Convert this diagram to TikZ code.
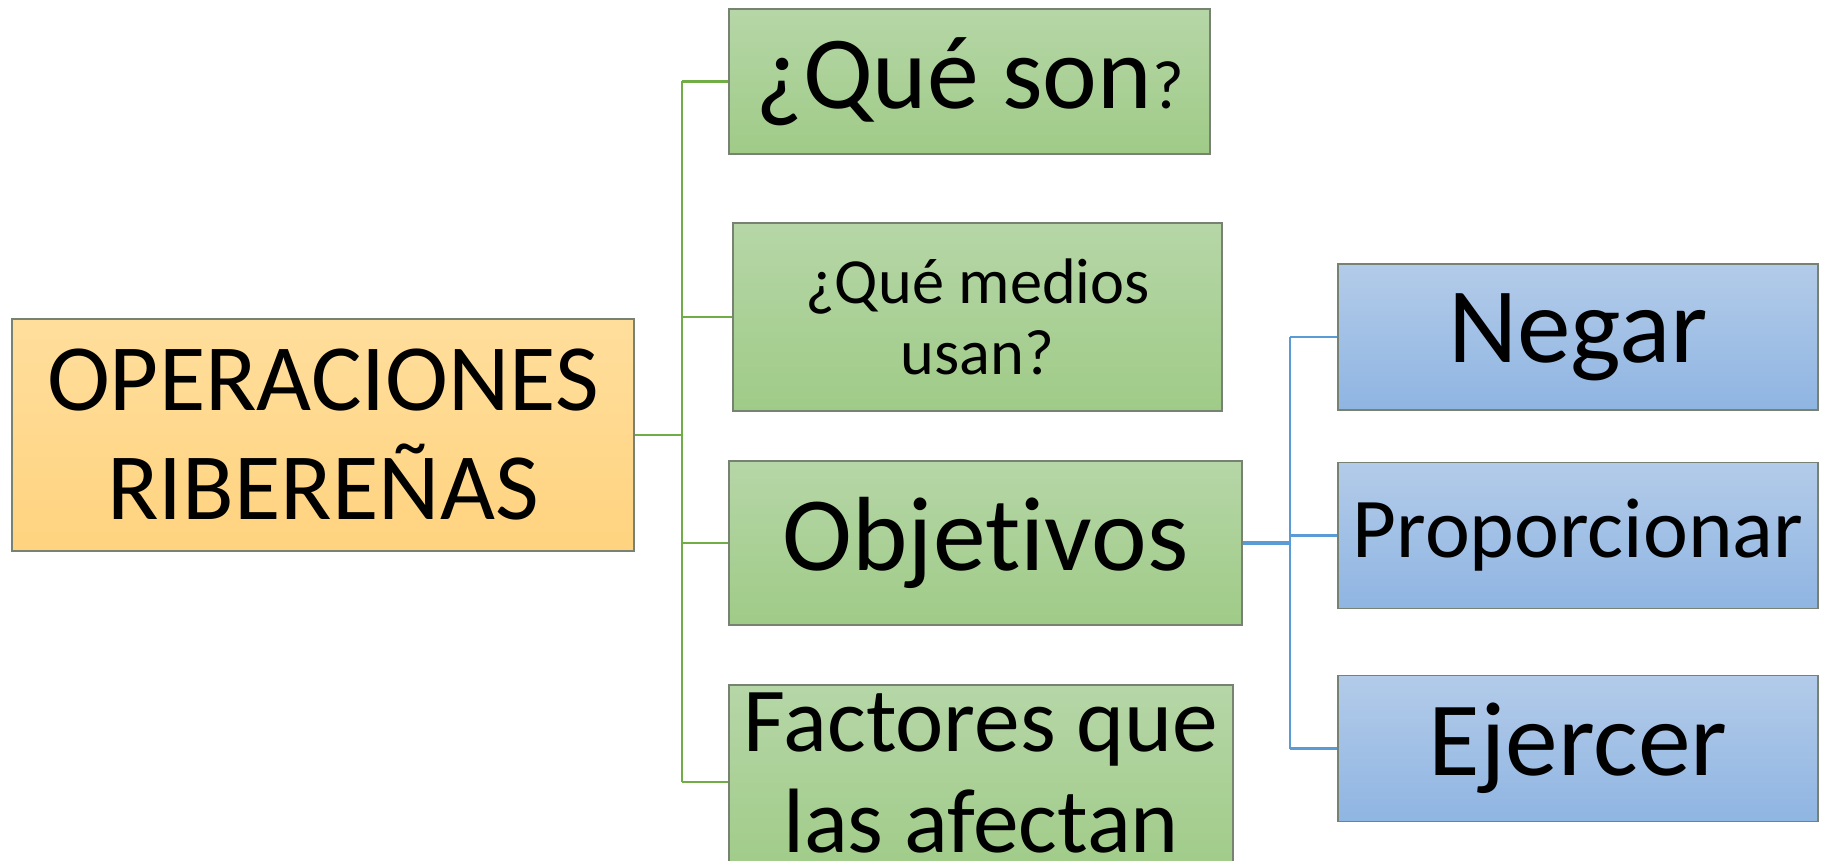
\documentclass[tikz,border=0pt]{standalone}
\usepackage{fontspec}
\setmainfont{Carlito}[Ligatures=NoCommon]
\usepackage{tikz}
\usetikzlibrary{positioning}
\definecolor{rootTop}{RGB}{255,222,156}
\definecolor{rootBot}{RGB}{255,211,127}
\definecolor{greenTop}{RGB}{182,214,167}
\definecolor{greenBot}{RGB}{159,203,135}
\definecolor{blueTop}{RGB}{179,203,233}
\definecolor{blueBot}{RGB}{143,181,226}
\definecolor{greenLine}{RGB}{112,173,71}
\definecolor{blueLine}{RGB}{91,155,213}
\definecolor{boxEdge}{RGB}{120,130,115}

\begin{document}
\begin{tikzpicture}[
  x=0.01cm, y=-0.01cm,
  box/.style={draw=boxEdge, line width=0.5pt, shading=axis,
    align=center, inner sep=0pt},
  rootbox/.style={box, top color=rootTop, bottom color=rootBot,
    font={\fontsize{27}{31}\selectfont}},
  greenbox/.style={box, top color=greenTop, bottom color=greenBot},
  bluebox/.style={box, top color=blueTop, bottom color=blueBot,
    minimum width=4.8cm, minimum height=1.46cm},
  glink/.style={draw=greenLine, line width=0.8pt},
  blink/.style={draw=blueLine, line width=0.8pt},
  ]
  \useasboundingbox (0,0) rectangle (1824,861);
  % Root
  \node[rootbox, minimum width=6.22cm, minimum height=2.32cm] (root) at (323,435)
    {OPERACIONES\\RIBEREÑAS};
  % Green branches
  \node[greenbox, minimum width=4.81cm, minimum height=1.45cm,
    font={\fontsize{29.5}{33}\selectfont}] (queson) at (969.5,81.5)
    {¿Qué son{\fontsize{19.5}{22}\selectfont ?}};
  \node[greenbox, minimum width=4.89cm, minimum height=1.88cm,
    font={\fontsize{18.3}{20}\selectfont}] (medios) at (977.5,317)
    {¿Qué medios\\usan?};
  \node[greenbox, minimum width=5.13cm, minimum height=1.64cm,
    font={\fontsize{30}{33}\selectfont}] (objetivos) at (985.5,543)
    {Objetivos};
  \node[greenbox, minimum width=5.04cm, minimum height=1.94cm,
    font={\fontsize{26}{28.7}\selectfont}] (factores) at (981,782)
    {Factores que\\las afectan\rule[-5.3pt]{0pt}{5.3pt}};
  % Blue branches
  \node[bluebox, font={\fontsize{30.5}{33}\selectfont}] (negar) at (1578,337) {Negar};
  \node[bluebox, font={\fontsize{24.2}{29}\selectfont}] (proporcionar) at (1578,535.5) {Proporcionar};
  \node[bluebox, font={\fontsize{30}{33}\selectfont}] (ejercer) at (1578,748.5) {Ejercer};
  % Trunks
  \coordinate (gx) at (682,0);
  \coordinate (bx) at (1290,0);
  \draw[glink] (root.east) -- (root.east -| gx);
  \draw[glink] (gx |- queson.west) -- (gx |- factores.west);
  \foreach \n in {queson,medios,objetivos,factores}
    \draw[glink] (gx |- \n.west) -- (\n.west);
  \draw[blink, line width=1.3pt] (objetivos.east) -- (objetivos.east -| bx);
  \draw[blink] (bx |- negar.west) -- (bx |- ejercer.west);
  \foreach \n in {negar,proporcionar,ejercer}
    \draw[blink] (bx |- \n.west) -- (\n.west);
\end{tikzpicture}
\end{document}
